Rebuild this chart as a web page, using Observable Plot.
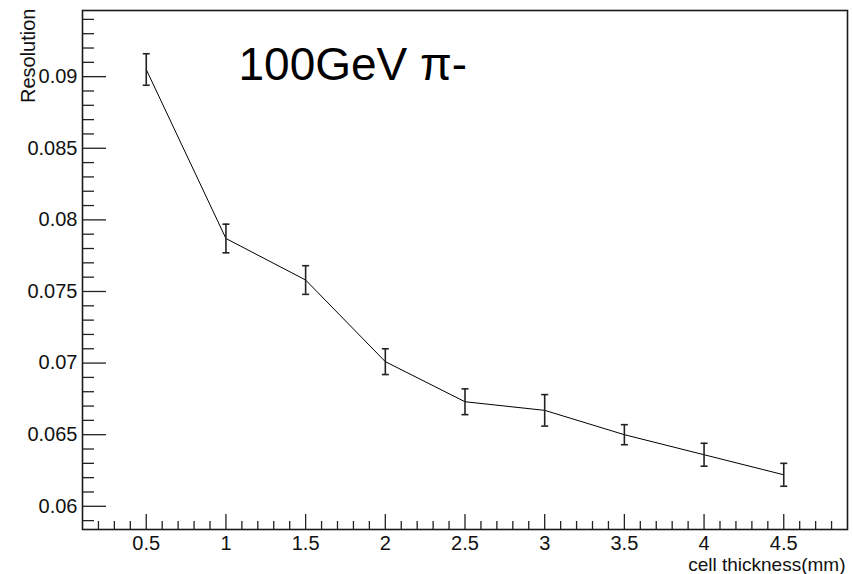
<!DOCTYPE html>
<html><head><meta charset="utf-8">
<script src="https://cdn.jsdelivr.net/npm/d3@7"></script>
<script src="https://cdn.jsdelivr.net/npm/@observablehq/plot@0.6"></script>
<style>html,body{margin:0;padding:0;background:#fff;}</style>
</head><body><div id="chart"></div>
<script>
// ---- data ----
const thickness = [0.5, 1, 1.5, 2, 2.5, 3, 3.5, 4, 4.5];
const resolution = [0.0905, 0.0787, 0.0758, 0.0701, 0.0673, 0.0667, 0.0650, 0.0636, 0.0622];
const resolutionErr = [0.0011, 0.0010, 0.0010, 0.0009, 0.0009, 0.0011, 0.0007, 0.0008, 0.0008];
const xTickValues = [0.5, 1, 1.5, 2, 2.5, 3, 3.5, 4, 4.5];
const xTickLabels = ["0.5", "1", "1.5", "2", "2.5", "3", "3.5", "4", "4.5"];
const yTickValues = [0.06, 0.065, 0.07, 0.075, 0.08, 0.085, 0.09];
const yTickLabels = ["0.06", "0.065", "0.07", "0.075", "0.08", "0.085", "0.09"];
const titleText = "100GeV π-";
const xLabel = "cell thickness(mm)";
const yLabel = "Resolution";
const xDomain = [0.1, 4.9];
const yDomain = [0.05838, 0.09462];

// ---- layout ----
const W = 853, H = 574, mL = 82, mR = 6, mT = 10, mB = 45;
const fw = W - mL - mR, fh = H - mT - mB;
const data = thickness.map((x, i) => ({x, y: resolution[i], e: resolutionErr[i]}));
const xMinor = d3.range(2, 49).map(d => d / 10).filter(d => Math.abs(d * 2 - Math.round(d * 2)) > 1e-6);
const yMinor = d3.range(59, 95).map(d => d / 1000).filter(d => Math.abs(d * 200 - Math.round(d * 200)) > 1e-6);
const capSymbol = {draw(ctx, size) { const w = Math.sqrt(size / Math.PI); ctx.moveTo(-w, 0); ctx.lineTo(w, 0); }};
const font = "'Liberation Sans', Arial, Helvetica, sans-serif";
const tickColor = "#222";

const chart = Plot.plot({
  width: W, height: H,
  marginLeft: mL, marginRight: mR, marginTop: mT, marginBottom: mB,
  style: {fontFamily: font, fontSize: "20px", background: "#fff", color: "#111"},
  x: {domain: xDomain, label: null},
  y: {domain: yDomain, label: null},
  marks: [
    Plot.axisX(xTickValues, {tickSize: 0, tickPadding: 6, tickFormat: d => xTickLabels[xTickValues.indexOf(d)], fontSize: 20, label: null}),
    Plot.axisY(yTickValues, {tickSize: 0, tickPadding: 5, tickFormat: d => yTickLabels[yTickValues.indexOf(d)], fontSize: 20, label: null}),
    // inward ticks (ROOT style)
    Plot.tickX(xTickValues, {x: d => d, insetTop: fh - 15, stroke: tickColor, strokeWidth: 1.3}),
    Plot.tickX(xMinor, {x: d => d, insetTop: fh - 8, stroke: tickColor, strokeWidth: 1.3}),
    Plot.tickY(yTickValues, {y: d => d, insetRight: fw - 24, stroke: tickColor, strokeWidth: 1.3}),
    Plot.tickY(yMinor, {y: d => d, insetRight: fw - 12, stroke: tickColor, strokeWidth: 1.3}),
    Plot.frame({stroke: "#1a1a1a", strokeWidth: 1.6}),
    Plot.line(data, {x: "x", y: "y", stroke: "#000", strokeWidth: 1}),
    Plot.ruleX(data, {x: "x", y1: d => d.y - d.e, y2: d => d.y + d.e, stroke: "#222", strokeWidth: 1.6}),
    Plot.dot(data, {x: "x", y: d => d.y + d.e, symbol: capSymbol, r: 3.5, stroke: "#222", strokeWidth: 1.6}),
    Plot.dot(data, {x: "x", y: d => d.y - d.e, symbol: capSymbol, r: 3.5, stroke: "#222", strokeWidth: 1.6}),
    Plot.text([titleText], {text: d => d, frameAnchor: "top-left", textAnchor: "start", lineAnchor: "top", dx: 156, dy: 37.3, fontSize: 46, fill: "#000"}),
    Plot.text([xLabel], {text: d => d, frameAnchor: "bottom-right", textAnchor: "end", lineAnchor: "middle", dx: -2, dy: 35.4, fontSize: 19, fill: "#111"}),
    Plot.text([yLabel], {text: d => d, frameAnchor: "top-left", textAnchor: "end", lineAnchor: "middle", rotate: -90, dx: -54.3, dy: -2, fontSize: 20, fill: "#111"})
  ]
});
document.getElementById("chart").appendChild(chart);
</script>
</body></html>
